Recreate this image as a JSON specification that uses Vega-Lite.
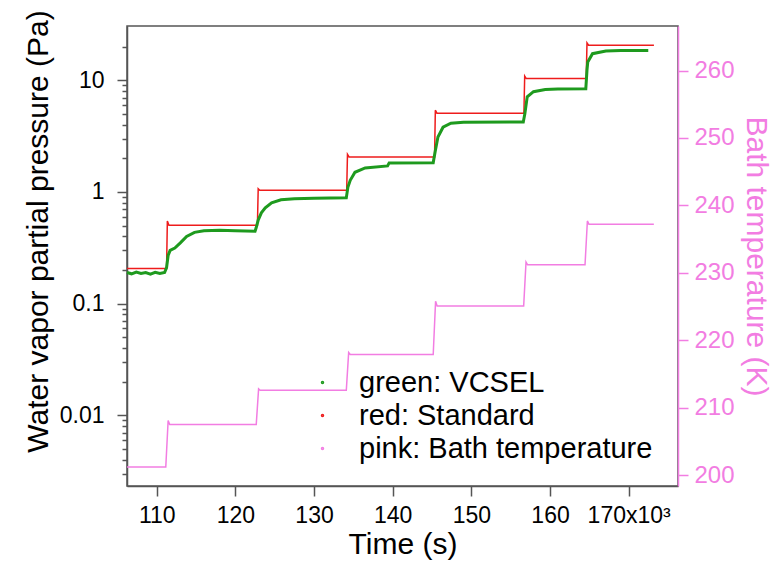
{
  "$schema": "https://vega.github.io/schema/vega-lite/v6.json",
  "width": 551,
  "height": 460,
  "autosize": "none",
  "padding": {"left": 127, "top": 26, "right": 104, "bottom": 77},
  "config": {
    "font": "Liberation Sans",
    "view": {"stroke": "#555555", "strokeWidth": 1.5},
    "axis": {"grid": false, "titleFontWeight": "normal", "labelOverlap": false, "labelFlush": false}
  },
  "datasets": {
    "standard": [
      {"t": 106220, "p": 0.206}, {"t": 111250, "p": 0.206}, {"t": 111350, "p": 0.55}, {"t": 111550, "p": 0.503},
      {"t": 122800, "p": 0.503}, {"t": 122900, "p": 1.07}, {"t": 123100, "p": 1.036},
      {"t": 134150, "p": 1.036}, {"t": 134250, "p": 2.17}, {"t": 134450, "p": 2.06},
      {"t": 145320, "p": 2.06}, {"t": 145420, "p": 5.4}, {"t": 145620, "p": 5.07},
      {"t": 156680, "p": 5.07}, {"t": 156780, "p": 10.9}, {"t": 156980, "p": 10.35},
      {"t": 164600, "p": 10.35}, {"t": 164700, "p": 21.6}, {"t": 164900, "p": 20.6},
      {"t": 173210, "p": 20.6}
    ],
    "vcsel": [
      {"t": 106220, "p": 0.19}, {"t": 106800, "p": 0.185}, {"t": 107400, "p": 0.192}, {"t": 108000, "p": 0.186},
      {"t": 108600, "p": 0.19}, {"t": 109200, "p": 0.184}, {"t": 109800, "p": 0.191}, {"t": 110400, "p": 0.186},
      {"t": 111000, "p": 0.19}, {"t": 111250, "p": 0.21}, {"t": 111450, "p": 0.27}, {"t": 111700, "p": 0.30},
      {"t": 112300, "p": 0.315}, {"t": 113000, "p": 0.35}, {"t": 113800, "p": 0.40}, {"t": 114800, "p": 0.435},
      {"t": 116000, "p": 0.45}, {"t": 118000, "p": 0.455}, {"t": 120000, "p": 0.45}, {"t": 122500, "p": 0.445},
      {"t": 122650, "p": 0.48}, {"t": 122900, "p": 0.56}, {"t": 123300, "p": 0.65}, {"t": 123800, "p": 0.72},
      {"t": 124600, "p": 0.8}, {"t": 125800, "p": 0.85}, {"t": 127500, "p": 0.87}, {"t": 130000, "p": 0.88},
      {"t": 134100, "p": 0.885}, {"t": 134300, "p": 1.1}, {"t": 134600, "p": 1.27}, {"t": 135200, "p": 1.5},
      {"t": 136500, "p": 1.64}, {"t": 139350, "p": 1.71}, {"t": 139550, "p": 1.82}, {"t": 145150, "p": 1.83},
      {"t": 145400, "p": 2.3}, {"t": 145750, "p": 3.1}, {"t": 146400, "p": 3.8}, {"t": 147400, "p": 4.12},
      {"t": 149000, "p": 4.2}, {"t": 156600, "p": 4.23}, {"t": 156800, "p": 5.0}, {"t": 157100, "p": 7.1},
      {"t": 157900, "p": 7.9}, {"t": 159400, "p": 8.25}, {"t": 161000, "p": 8.35}, {"t": 164550, "p": 8.4},
      {"t": 164700, "p": 12.3}, {"t": 164800, "p": 14.6}, {"t": 165400, "p": 17.3}, {"t": 167100, "p": 18.3},
      {"t": 169000, "p": 18.5}, {"t": 172490, "p": 18.5}
    ],
    "bath": [
      {"t": 106220, "T": 201.2}, {"t": 111150, "T": 201.2}, {"t": 111450, "T": 208.1}, {"t": 111650, "T": 207.5},
      {"t": 122650, "T": 207.5}, {"t": 122950, "T": 212.8}, {"t": 123150, "T": 212.6},
      {"t": 134100, "T": 212.6}, {"t": 134400, "T": 218.2}, {"t": 134600, "T": 217.9},
      {"t": 145150, "T": 217.9}, {"t": 145450, "T": 225.8}, {"t": 145650, "T": 225.1},
      {"t": 156650, "T": 225.1}, {"t": 156950, "T": 231.6}, {"t": 157150, "T": 231.2},
      {"t": 164450, "T": 231.2}, {"t": 164750, "T": 237.7}, {"t": 164950, "T": 237.2},
      {"t": 173200, "T": 237.2}
    ]
  },
  "encoding": {
    "x": {
      "field": "t",
      "type": "quantitative",
      "scale": {"domain": [106220, 176270], "nice": false, "zero": false},
      "axis": {
        "title": "Time (s)",
        "titleFontSize": 30,
        "titleColor": "#000000",
        "titlePadding": 2,
        "values": [110000, 120000, 130000, 140000, 150000, 160000, 170000],
        "labelExpr": "datum.value === 170000 ? '170x10³' : format(datum.value / 1000, 'd')",
        "labelFontSize": 23,
        "labelColor": "#000000",
        "labelPadding": 8,
        "tickSize": 10,
        "tickWidth": 1.5,
        "tickColor": "#555555",
        "domainColor": "#555555",
        "domainWidth": 1.5
      }
    }
  },
  "layer": [
    {
      "data": {"name": "bath"},
      "mark": {"type": "line", "strokeWidth": 1.5, "interpolate": "linear"},
      "encoding": {
        "y": {
          "field": "T",
          "type": "quantitative",
          "scale": {"domain": [198.4, 266.6], "nice": false, "zero": false},
          "axis": {
            "orient": "right",
            "title": "Bath temperature (K)",
            "titleFontSize": 30,
            "titleColor": "#f27de2",
            "titlePadding": 6,
            "values": [200, 210, 220, 230, 240, 250, 260],
            "labelFontSize": 24,
            "labelColor": "#f27de2",
            "labelPadding": 6,
            "tickSize": 10,
            "tickWidth": 1.5,
            "tickColor": "#f27de2",
            "domainColor": "#f27de2",
            "domainWidth": 1.5
          }
        },
        "color": {
          "datum": "pink: Bath temperature",
          "type": "nominal",
          "scale": {
            "domain": ["green: VCSEL", "red: Standard", "pink: Bath temperature"],
            "range": ["#1e9a1e", "#ee1c1c", "#f27de2"]
          },
          "legend": {
            "orient": "none",
            "legendX": 181,
            "legendY": 342,
            "title": null,
            "padding": 0,
            "symbolType": "circle",
            "symbolSize": 4,
            "symbolStrokeWidth": 1.5,
            "labelFontSize": 29,
            "labelColor": "#000000",
            "labelOffset": 22,
            "labelLimit": 500,
            "rowPadding": 3
          }
        }
      }
    },
    {
      "encoding": {
        "y": {
          "field": "p",
          "type": "quantitative",
          "scale": {"type": "log", "domain": [0.00233, 30.6], "nice": false},
          "axis": {
            "orient": "left",
            "title": "Water vapor partial pressure (Pa)",
            "titleFontSize": 30,
            "titleColor": "#000000",
            "titlePadding": 6,
            "titleY": 205,
            "values": [0.003, 0.004, 0.005, 0.006, 0.007, 0.008, 0.009,
                       0.01, 0.02, 0.03, 0.04, 0.05, 0.06, 0.07, 0.08, 0.09,
                       0.1, 0.2, 0.3, 0.4, 0.5, 0.6, 0.7, 0.8, 0.9,
                       1, 2, 3, 4, 5, 6, 7, 8, 9, 10, 20],
            "format": "~g",
            "labelExpr": "abs(log(datum.value) / LN10 - round(log(datum.value) / LN10)) < 0.001 ? datum.label : ''",
            "labelFontSize": 23,
            "labelColor": "#000000",
            "labelPadding": 13,
            "tickSize": {
              "condition": {"test": "abs(log(datum.value) / LN10 - round(log(datum.value) / LN10)) < 0.001", "value": 10},
              "value": 5
            },
            "tickWidth": 1.5,
            "tickColor": "#555555",
            "domainColor": "#555555",
            "domainWidth": 1.5
          }
        }
      },
      "layer": [
        {
          "data": {"name": "standard"},
          "mark": {"type": "line", "strokeWidth": 1.5},
          "encoding": {"color": {"datum": "red: Standard", "type": "nominal"}}
        },
        {
          "data": {"name": "vcsel"},
          "mark": {"type": "line", "strokeWidth": 3},
          "encoding": {"color": {"datum": "green: VCSEL", "type": "nominal"}}
        }
      ]
    }
  ],
  "resolve": {"scale": {"y": "independent"}}
}
